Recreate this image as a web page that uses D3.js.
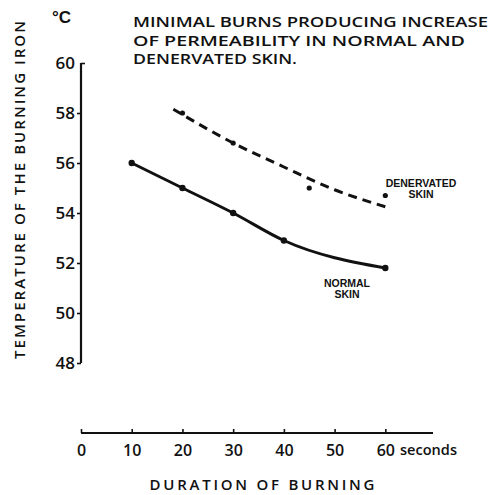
<!DOCTYPE html>
<html><head><meta charset="utf-8">
<script src="https://cdn.jsdelivr.net/npm/d3@7"></script>
<style>
html,body{margin:0;padding:0;background:#fff;}
svg{display:block;}
text{font-family:"Liberation Sans",Arial,sans-serif;fill:#111;}
.semi{font-family:"Open Sans","Liberation Sans",sans-serif;font-weight:600;}
</style></head>
<body>
<script>
// Data
const normalPoints = [[10,56.0],[20,55.0],[30,54.0],[40,52.9],[60,51.8]];
const denervatedPoints = [[20,58.0],[30,56.8],[45,55.0],[60,54.7]];
const denervatedFit = [[18.2,58.15],[30,56.8],[40,55.84],[50,54.93],[60,54.25]];
const xTicks = [0,10,20,30,40,50,60];
const yTicks = [48,50,52,54,56,58,60];
const titleLines = ["MINIMAL BURNS PRODUCING  INCREASE","OF PERMEABILITY IN NORMAL AND","DENERVATED SKIN."];

const W=489,H=495;
const svg=d3.select("body").append("svg").attr("width",W).attr("height",H);
svg.append("rect").attr("width",W).attr("height",H).attr("fill","#fff");

const x=d3.scaleLinear().domain([0,69.4]).range([81,433]);
const y=d3.scaleLinear().domain([48,60]).range([363,63]);

// Y axis
const yAxis=svg.append("g").attr("transform","translate(81,0)")
  .call(d3.axisLeft(y).tickValues(yTicks).tickSize(4).tickPadding(2).tickFormat(d3.format("d")));
yAxis.select(".domain").attr("d","M0,"+y(60)+"V"+y(48)).attr("stroke","#111").attr("stroke-width",2.2);
yAxis.selectAll(".tick line").attr("stroke","#111").attr("stroke-width",1.6);
yAxis.selectAll(".tick").filter(d=>d===60).select("line").attr("x2",4);
yAxis.selectAll(".tick text").attr("class","semi").attr("font-size",17).attr("fill","#111").attr("dy","0.35em");

// X axis
const xAxis=svg.append("g").attr("transform","translate(0,433)")
  .call(d3.axisTop(x).tickValues(xTicks).tickSize(4).tickFormat(d3.format("d")));
xAxis.select(".domain").attr("d","M"+x(0)+",0H"+x(69.4)).attr("stroke","#111").attr("stroke-width",1.8);
xAxis.selectAll(".tick line").attr("stroke","#111").attr("stroke-width",1.6);
xAxis.selectAll(".tick text").attr("class","semi").attr("y",17).attr("dy","0.35em").attr("font-size",16).attr("fill","#111");
svg.append("text").attr("class","semi").attr("x",400).attr("y",455).attr("font-size",14)
  .attr("textLength",57).attr("lengthAdjust","spacingAndGlyphs").text("seconds");

// Axis labels
svg.append("text").attr("class","semi").attr("x",262).attr("y",490).attr("text-anchor","middle").attr("font-size",15)
  .attr("textLength",225).attr("lengthAdjust","spacing").text("DURATION OF BURNING");
svg.append("text").attr("class","semi").attr("transform","translate(25,190) rotate(-90)").attr("text-anchor","middle")
  .attr("font-size",15).attr("textLength",338).attr("lengthAdjust","spacing").text("TEMPERATURE OF THE BURNING IRON");
svg.append("text").attr("x",52).attr("y",23).attr("font-size",17).attr("font-weight","bold").text("°C");

// Title
const tw=[355,332,164];
svg.selectAll(".title").data(titleLines).join("text").attr("class","title semi")
  .attr("x",133).attr("y",(d,i)=>27.3+i*18.3).attr("font-size",15)
  .attr("textLength",(d,i)=>tw[i]).attr("lengthAdjust","spacingAndGlyphs").text(d=>d);

// Lines
const line=d3.line().x(d=>x(d[0])).y(d=>y(d[1])).curve(d3.curveMonotoneX);
svg.append("path").attr("d",line(normalPoints)).attr("fill","none").attr("stroke","#111").attr("stroke-width",3);
svg.append("path").attr("d",line(denervatedFit)).attr("fill","none").attr("stroke","#111")
  .attr("stroke-width",3).attr("stroke-dasharray","9,6");

svg.selectAll(".np").data(normalPoints).join("circle").attr("class","np")
  .attr("cx",d=>x(d[0])).attr("cy",d=>y(d[1])).attr("r",3.2).attr("fill","#111");
svg.selectAll(".dp").data(denervatedPoints).join("circle").attr("class","dp")
  .attr("cx",d=>x(d[0])).attr("cy",d=>y(d[1])).attr("r",2.6).attr("fill","#111");

// Series labels
const lbl=(lines,cx,y0)=>lines.forEach((t,i)=>svg.append("text").attr("x",cx).attr("y",y0+i*10.5)
  .attr("text-anchor","middle").attr("font-size",10.5).attr("font-weight","bold").text(t));
lbl(["DENERVATED","SKIN"],421,187);
lbl(["NORMAL","SKIN"],347,287);
</script>
</body></html>
